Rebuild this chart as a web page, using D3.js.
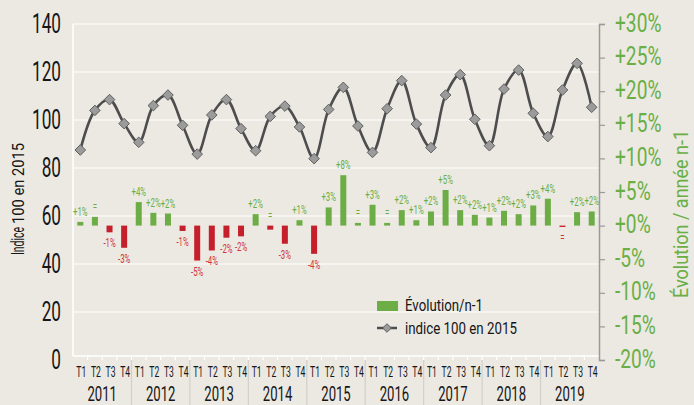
<!DOCTYPE html>
<html><head><meta charset="utf-8">
<script src="https://cdn.jsdelivr.net/npm/d3@7"></script>
<style>
body{margin:0;background:#ece9e3}
svg{display:block}
text{font-family:"Liberation Sans Narrow","Roboto","Liberation Sans",sans-serif}
</style></head>
<body><svg id="c" width="694" height="405"></svg>
<script>
// ---- data ----
const years = ["2011","2012","2013","2014","2015","2016","2017","2018","2019"];
const quarters = ["T1","T2","T3","T4"];
const indexValues = [87.5,104.0,108.5,98.5, 90.7,106.0,110.4,97.8, 85.8,102.1,108.5,96.4,
                     87.2,101.5,105.8,97.1, 83.9,104.4,113.6,97.5, 86.5,104.7,116.4,98.3,
                     88.5,110.4,118.9,100.3, 89.3,112.9,120.8,102.8, 93.1,112.5,123.6,105.3];
const evoValues = [0.55,1.3,-1.0,-3.3, 3.5,1.9,1.8,-0.8, -5.2,-3.7,-1.8,-1.6,
                   1.7,-0.6,-2.7,0.8, -4.2,2.7,7.5,0.4, 3.1,0.4,2.3,0.8,
                   2.1,5.3,2.3,1.6, 1.2,2.2,1.7,3.0, 4.0,-0.2,2.0,2.1];
const evoLabels = ["+1%","=","-1%","-3%", "+4%","+2%","+2%","-1%", "-5%","-4%","-2%","-2%",
                   "+2%","=","-3%","+1%", "-4%","+3%","+8%","=", "+3%","=","+2%","+1%",
                   "+2%","+5%","+2%","+2%", "+1%","+2%","+2%","+3%", "+4%","=","+2%","+2%"];
const equalBelow = ["2019|T2"];
const leftTicks = [0,20,40,60,80,100,120,140];
const rightTicks = [-20,-15,-10,-5,0,5,10,15,20,25,30];
const seriesNames = ["Évolution/n-1","indice 100 en 2015"];
const leftTitleParts = ["Indice","100 en 2015"];
const rightTitle = "Évolution / année n-1";

// ---- styles ----
const GREEN = "#6cad45", GREEN_T = "#6aaf45", RED = "#c41f2b", RED_T = "#d0333c";
const LINE = "#4d4d4d", DFILL = "#9b9b9b", DSTROKE = "#5f5f5f", INK = "#161616";

const categories = years.flatMap(y => quarters.map(q => y + "|" + q));
const L = 73, R = 599, T = 24, B = 360, XAX = 356;
const svg = d3.select("#c");
svg.append("rect").attr("width",694).attr("height",405).attr("fill","#ece9e3");

function fit(fontSize, sample, target) {
  const t = svg.append("text").attr("font-size", fontSize).text(sample);
  const w = t.node().getComputedTextLength();
  t.remove();
  return w > 0 ? target / w : 1;
}

const x = d3.scaleBand().domain(categories).range([L, R]).padding(0);
const xYear = d3.scaleBand().domain(years).range([L, R]).padding(0);
const yL = d3.scaleLinear().domain([0,140]).range([B, T]);
const yR = d3.scaleLinear().domain([-20,30]).range([B, T]);
const bw = x.bandwidth();

// gridlines
svg.append("g").selectAll("line").data(leftTicks.filter(d => d > 0)).join("line")
  .attr("x1", L).attr("x2", R).attr("y1", d => yL(d)).attr("y2", d => yL(d))
  .attr("stroke", "#fff").attr("stroke-width", 1.2);
svg.append("line").attr("x1",L).attr("x2",L).attr("y1",T).attr("y2",XAX).attr("stroke","#fff").attr("stroke-width",1.5);
svg.append("line").attr("x1",L).attr("x2",R).attr("y1",XAX).attr("y2",XAX).attr("stroke","#fff").attr("stroke-width",1.5);
svg.append("g").selectAll("line").data(categories.slice(1)).join("line")
  .attr("x1", d => x(d)).attr("x2", d => x(d)).attr("y1", XAX).attr("y2", B)
  .attr("stroke","#fff").attr("stroke-width",1.2);
svg.append("g").selectAll("line").data(years.slice(1)).join("line")
  .attr("x1", d => xYear(d)).attr("x2", d => xYear(d)).attr("y1", B).attr("y2", 405)
  .attr("stroke","#d2d0cb").attr("stroke-width",1.2);

// left axis
const sxL = fit(28, "140", 29);
const gL = svg.append("g").attr("transform",`translate(${L},0)`)
  .call(d3.axisLeft(yL).tickValues(leftTicks).tickSize(0));
gL.select(".domain").remove();
gL.selectAll("text").attr("font-size",28).attr("fill",INK).attr("font-family",null)
  .attr("transform",`translate(0,-2) scale(${sxL},1)`).attr("x",-12/sxL).attr("dy","0.36em");

// right axis
const sxR = fit(25, "+20%", 46.5);
const gR = svg.append("g").attr("transform",`translate(${R},0)`)
  .call(d3.axisRight(yR).tickValues(rightTicks).tickSize(6)
    .tickFormat(d => (d >= 0 ? "+" : "") + d + "%"));
gR.select(".domain").attr("stroke","#9a9a9a").attr("stroke-width",1.5);
gR.selectAll(".tick line").attr("stroke","#9a9a9a").attr("stroke-width",1.2);
gR.selectAll("text").attr("font-size",25).attr("fill",GREEN_T).attr("font-family",null)
  .attr("transform",`translate(0,-2) scale(${sxR},1)`).attr("x",16/sxR).attr("dy","0.36em");

// quarter labels
const sxQ = fit(15, "T2", 10);
const gQ = svg.append("g").attr("transform",`translate(0,${XAX})`)
  .call(d3.axisBottom(x).tickSize(0).tickFormat(d => d.split("|")[1]));
gQ.select(".domain").remove();
gQ.selectAll("text").attr("font-size",15).attr("fill",INK).attr("font-family",null)
  .attr("transform",`translate(1,15.7) scale(${sxQ},1)`).attr("y",0).attr("dy","0.36em");

// year labels
const sxY = fit(21, "2011", 29.5);
const gY = svg.append("g").attr("transform",`translate(0,393)`)
  .call(d3.axisBottom(xYear).tickSize(0));
gY.select(".domain").remove();
gY.selectAll("text").attr("font-size",21).attr("fill",INK).attr("font-family",null)
  .attr("transform",`scale(${sxY},1)`).attr("y",0).attr("dy","0.36em");

// bars
const barW = 6;
svg.append("g").selectAll("rect").data(evoValues).join("rect")
  .attr("x", (d,i) => x(categories[i]) + bw/2 - barW/2)
  .attr("width", barW)
  .attr("y", d => Math.min(yR(d), yR(0)))
  .attr("height", d => Math.abs(yR(d) - yR(0)))
  .attr("fill", d => d >= 0 ? GREEN : RED);

// bar labels
const sxB = fit(12.5, "+2%", 14.6);
evoLabels.forEach((lab, i) => {
  const v = evoValues[i], c = categories[i];
  const above = lab.startsWith("+") || (lab === "=" && !equalBelow.includes(c));
  const yy = above ? Math.min(yR(v), yR(0)) - 6 : Math.max(yR(v), yR(0)) + 15;
  svg.append("g").attr("transform",`translate(${x(c)+bw/2},${yy}) scale(${sxB},1)`)
    .append("text").attr("text-anchor","middle").attr("font-size",12.5)
    .attr("fill", above ? GREEN_T : RED_T).text(lab);
});

// index line
const line = d3.line().x((d,i) => x(categories[i]) + bw/2).y(d => yL(d))
  .curve(d3.curveCatmullRom.alpha(0.5));
svg.append("path").datum(indexValues).attr("d", line).attr("fill","none")
  .attr("stroke", LINE).attr("stroke-width", 2.6);
const diamond = r => `M0,${-r}L${r},0L0,${r}L${-r},0Z`;
svg.append("g").selectAll("path").data(indexValues).join("path")
  .attr("d", diamond(5.3))
  .attr("transform", (d,i) => `translate(${x(categories[i]) + bw/2},${yL(d)})`)
  .attr("fill", DFILL).attr("stroke", DSTROKE).attr("stroke-width", 1);

// legend
const lg = svg.append("g");
lg.append("rect").attr("x",377).attr("y",301).attr("width",21).attr("height",10).attr("fill",GREEN);
lg.append("line").attr("x1",377).attr("x2",397).attr("y1",328).attr("y2",328).attr("stroke",LINE).attr("stroke-width",2.5);
lg.append("path").attr("d",diamond(4.3)).attr("transform","translate(387,328)")
  .attr("fill",DFILL).attr("stroke",DSTROKE).attr("stroke-width",1);
[[305,seriesNames[0],78],[328,seriesNames[1],112]].forEach(([yy,t,w]) => {
  const s = fit(17, t, w);
  lg.append("g").attr("transform",`translate(405,${yy}) scale(${s},1)`)
    .append("text").attr("font-size",17).attr("fill",INK).attr("dy","0.36em").text(t);
});

// left title
const lt = svg.append("g").attr("transform","translate(23.5,255) rotate(-90)");
lt.append("text").attr("x",0).attr("font-size",19).attr("fill",INK)
  .attr("textLength",28).attr("lengthAdjust","spacingAndGlyphs").text(leftTitleParts[0]);
lt.append("text").attr("x",31).attr("font-size",16).attr("fill",INK)
  .attr("textLength",81).attr("lengthAdjust","spacingAndGlyphs").text(leftTitleParts[1]);

// right title
svg.append("g").attr("transform","translate(688,298) rotate(-90)")
  .append("text").attr("font-size",21).attr("fill",GREEN_T)
  .attr("textLength",168).attr("lengthAdjust","spacingAndGlyphs").text(rightTitle);
</script></body></html>
